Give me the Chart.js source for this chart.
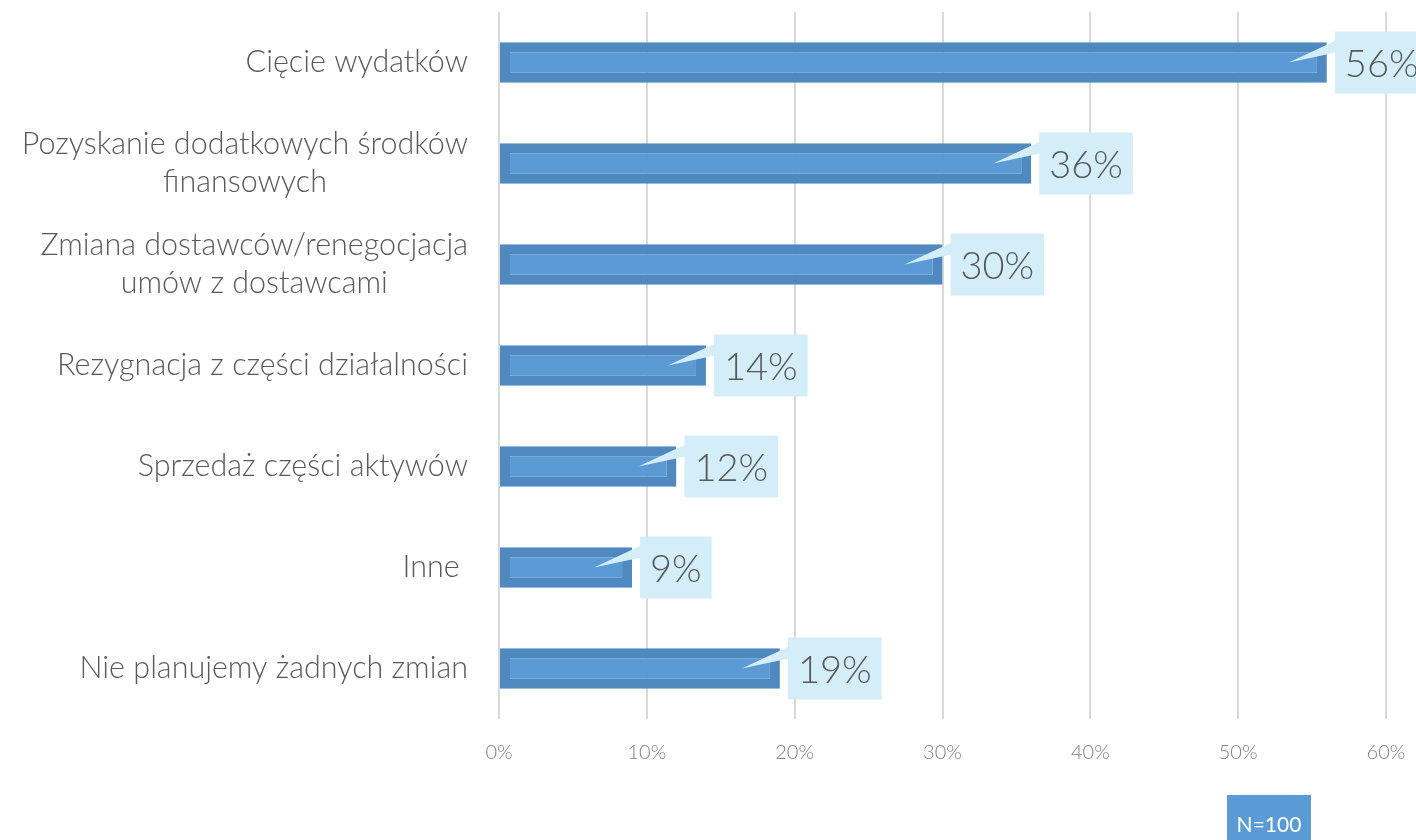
<!DOCTYPE html>
<html>
<head>
<meta charset="utf-8">
<script src="https://cdn.jsdelivr.net/npm/chart.js@4.4.0/dist/chart.umd.min.js"></script>
<style>
  body { margin: 0; background: #fff; }
</style>
</head>
<body>
<canvas id="barChart" width="1416" height="840"></canvas>
<script>
// Survey answers, one entry per bar (multi-line labels as arrays)
const categories = [
  ['Cięcie wydatków'],
  ['Pozyskanie dodatkowych środków', 'finansowych'],
  ['Zmiana dostawców/renegocjacja', 'umów z dostawcami'],
  ['Rezygnacja z części działalności'],
  ['Sprzedaż części aktywów'],
  ['Inne '],
  ['Nie planujemy żadnych zmian']
];
const values = [56, 36, 30, 14, 12, 9, 19];
const xTickValues = [0, 10, 20, 30, 40, 50, 60];
const sampleNote = 'N=100';

const FONT = 'Lato, "Open Sans", sans-serif';
const TEXT_GREY = '#595959';

// Category labels drawn by hand so that wrapped lines centre on each other
const categoryLabels = {
  id: 'categoryLabels',
  afterDraw(chart) {
    const ctx = chart.ctx;
    const yScale = chart.scales.y;
    const right = 468;
    const lineH = 38;
    ctx.save();
    ctx.font = '300 30.5px ' + FONT;
    ctx.fillStyle = TEXT_GREY;
    ctx.textBaseline = 'middle';
    ctx.textAlign = 'center';
    categories.forEach((lines, i) => {
      const cy = yScale.getPixelForTick(i);
      const blockW = Math.max(...lines.map(l => ctx.measureText(l).width));
      const cx = right - blockW / 2;
      const top = cy - (lines.length - 1) * lineH / 2;
      lines.forEach((line, j) => ctx.fillText(line, cx, top + j * lineH));
    });
    ctx.restore();
  }
};

// Light blue value callouts with a little pointer into the bar
const valueCallouts = {
  id: 'valueCallouts',
  afterDatasetsDraw(chart) {
    const ctx = chart.ctx;
    const meta = chart.getDatasetMeta(0);
    ctx.save();
    ctx.font = '300 38px ' + FONT;
    ctx.textBaseline = 'middle';
    meta.data.forEach((bar, i) => {
      const text = values[i] + '%';
      const w = ctx.measureText(text).width + 20;
      const left = bar.x + 8;
      const cy = bar.y;
      ctx.fillStyle = '#d4eef9';
      ctx.fillRect(left, cy - 31, w, 62);
      ctx.beginPath();
      ctx.moveTo(left + 1, cy - 22);
      ctx.lineTo(left - 46, cy);
      ctx.lineTo(left + 1, cy - 10);
      ctx.closePath();
      ctx.fill();
      ctx.fillStyle = TEXT_GREY;
      ctx.fillText(text, left + 10, cy + 2);
    });
    ctx.restore();
  }
};

// Sample size badge in the bottom right corner
const sampleBadge = {
  id: 'sampleBadge',
  afterDraw(chart) {
    const ctx = chart.ctx;
    ctx.save();
    ctx.fillStyle = '#5b9bd5';
    ctx.fillRect(1227, 795, 84, 45);
    ctx.fillStyle = '#ffffff';
    ctx.font = '400 21px ' + FONT;
    ctx.textAlign = 'center';
    ctx.textBaseline = 'middle';
    ctx.fillText(sampleNote, 1269, 825);
    ctx.restore();
  }
};

const ctx = document.getElementById('barChart').getContext('2d');
new Chart(ctx, {
  type: 'bar',
  data: {
    labels: categories.map(l => l.join(' ')),
    datasets: [{
      data: values,
      backgroundColor: '#5b9ad5',
      borderColor: '#5089bf',
      borderWidth: 10,
      borderSkipped: false,
      barPercentage: 0.4,
      categoryPercentage: 1
    }]
  },
  options: {
    indexAxis: 'y',
    responsive: false,
    animation: false,
    layout: {
      padding: { left: 499, right: 30, top: 12, bottom: 53 }
    },
    plugins: {
      legend: { display: false },
      tooltip: { enabled: false }
    },
    scales: {
      x: {
        min: 0,
        max: 60,
        afterBuildTicks: axis => {
          axis.ticks = xTickValues.map(v => ({ value: v }));
        },
        // the outer labels may spill into the layout padding
        afterFit: axis => {
          axis.paddingLeft = 0;
          axis.paddingRight = 0;
        },
        grid: { color: '#d9d9d9', lineWidth: 2, drawTicks: false },
        border: { display: false },
        ticks: {
          padding: 22,
          color: '#808080',
          font: { family: FONT, size: 20, weight: '300' },
          callback: v => v + '%'
        }
      },
      y: {
        display: false
      }
    }
  },
  plugins: [categoryLabels, valueCallouts, sampleBadge]
});
</script>
</body>
</html>
